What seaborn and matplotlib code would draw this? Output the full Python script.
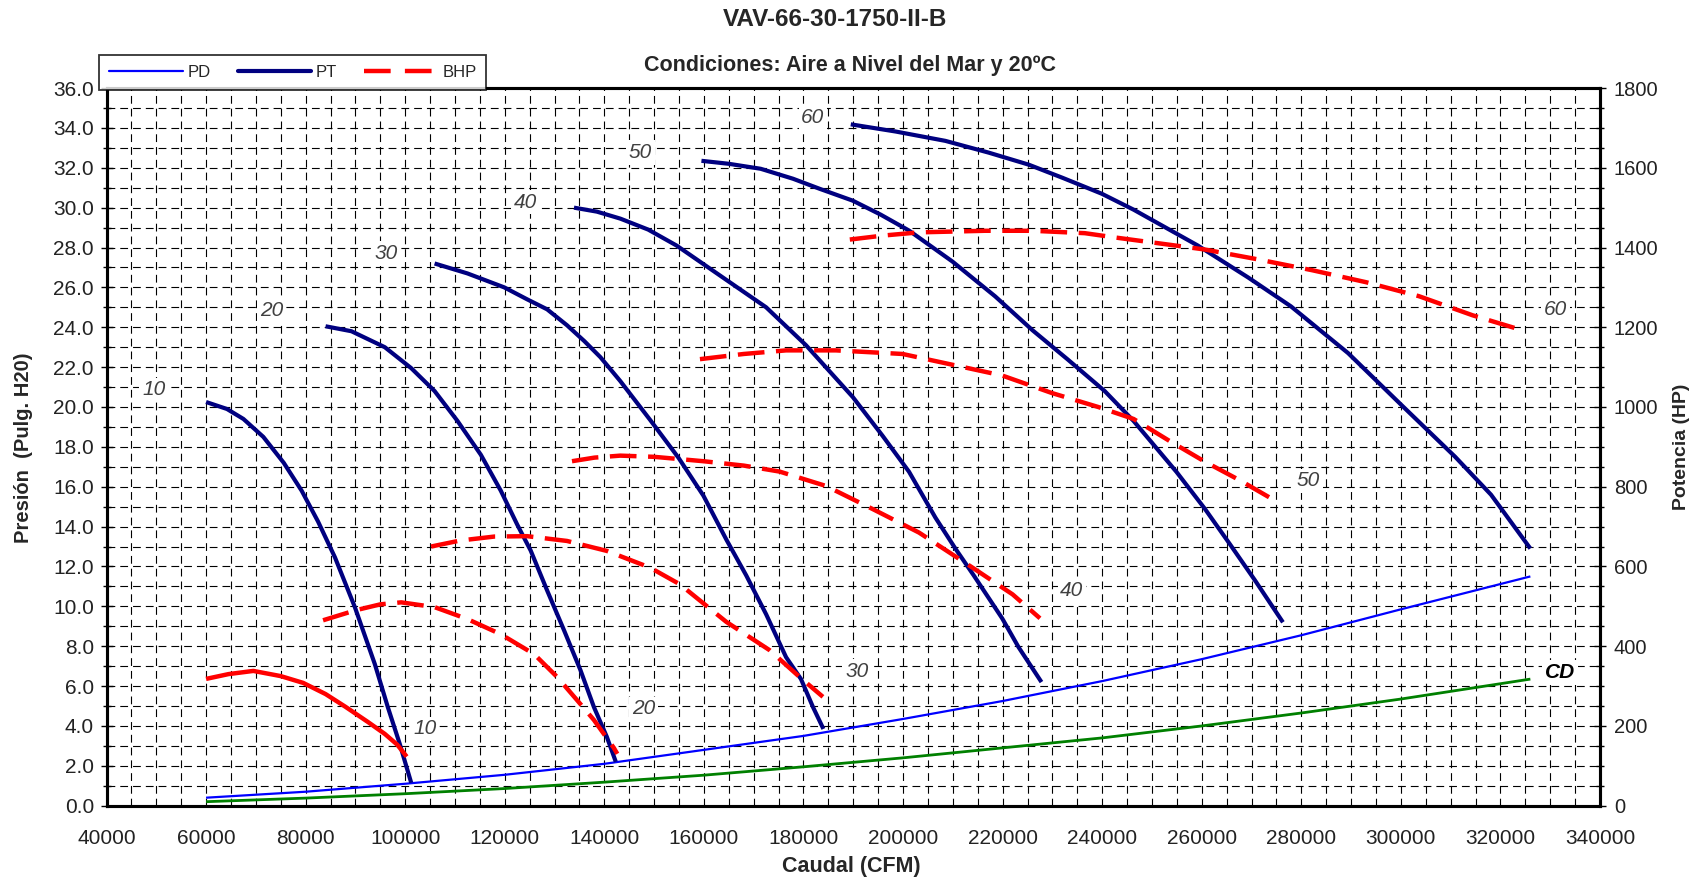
import matplotlib
matplotlib.use("Agg")
import matplotlib.pyplot as plt
import seaborn as sns
from matplotlib.lines import Line2D
from matplotlib.ticker import MultipleLocator, FormatStrFormatter

# ---------------- data ----------------
# PT curves (pressure, in. H2O) vs CFM
pt10_x = [60000, 64200, 67500, 71500, 75600, 79200, 82500, 85900, 89900, 93900, 96500, 98900, 101200]
pt10_y = [20.25, 19.9, 19.4, 18.5, 17.2, 15.8, 14.25, 12.45, 9.95, 7.1, 4.95, 3.1, 1.15]
pt20_x = [84000, 89200, 95900, 101200, 105900, 110500, 115200, 119200, 122500, 125200, 128500, 131900, 135200, 137900, 140500, 142300]
pt20_y = [24.05, 23.8, 23.0, 21.95, 20.8, 19.3, 17.6, 15.8, 14.1, 12.8, 10.8, 8.8, 6.8, 4.95, 3.45, 2.2]
pt30_x = [105900, 112500, 119900, 124500, 128500, 132500, 136000, 139200, 143200, 149200, 154900, 159900, 164500, 168500, 172500, 176500, 179500, 181900, 184000]
pt30_y = [27.2, 26.7, 26.0, 25.4, 24.9, 24.1, 23.3, 22.5, 21.3, 19.35, 17.45, 15.55, 13.35, 11.55, 9.6, 7.45, 6.35, 4.95, 3.85]
pt40_x = [133900, 138500, 143200, 148800, 154500, 163200, 172500, 180500, 189900, 195900, 201200, 206500, 210500, 214200, 219900, 223200, 227800]
pt40_y = [30.0, 29.8, 29.45, 28.9, 28.1, 26.6, 25.0, 23.1, 20.5, 18.55, 16.75, 14.45, 12.9, 11.55, 9.4, 7.95, 6.2]
pt50_x = [159500, 165000, 171400, 177900, 183200, 189900, 195500, 201200, 209900, 218500, 226000, 233000, 240500, 246300, 254900, 260600, 265700, 270700, 276300]
pt50_y = [32.35, 32.2, 31.95, 31.45, 30.95, 30.35, 29.65, 28.85, 27.3, 25.55, 23.85, 22.4, 20.8, 19.3, 16.75, 14.9, 13.1, 11.3, 9.2]
pt60_x = [189500, 198500, 208500, 217200, 225200, 232000, 239900, 246300, 259200, 269300, 277900, 289400, 300100, 310900, 318100, 326000]
pt60_y = [34.18, 33.82, 33.35, 32.76, 32.16, 31.5, 30.7, 29.9, 28.1, 26.5, 25.05, 22.7, 20.1, 17.5, 15.6, 12.9]

# BHP curves (HP) vs CFM
bhp10_x = [60000, 64500, 69500, 75000, 79500, 84000, 88000, 92500, 95900, 98400, 100300]
bhp10_y = [318, 330, 338, 325, 308, 280, 248, 210, 180, 153, 123]
bhp20_x = [83500, 90000, 95000, 99200, 105900, 112500, 119200, 125900, 130500, 134500, 137900, 141900, 142600]
bhp20_y = [465, 490, 505, 510, 498, 468, 430, 380, 323, 265, 215, 145, 130]
bhp30_x = [105200, 111000, 117900, 124500, 132500, 140500, 149200, 155200, 164500, 173200, 179200, 183900]
bhp30_y = [650, 665, 675, 676, 664, 639, 597, 555, 461, 390, 323, 273]
bhp40_x = [133500, 138000, 143200, 150000, 159900, 168000, 175200, 184500, 193900, 203200, 214200, 222000, 227500]
bhp40_y = [864, 873, 878, 875, 864, 853, 838, 802, 744, 685, 595, 530, 470]
bhp50_x = [159200, 168000, 176500, 186500, 199900, 209900, 219900, 229900, 239200, 246300, 253500, 260600, 267800, 275000]
bhp50_y = [1120, 1133, 1142, 1142, 1133, 1106, 1079, 1035, 1000, 970, 915, 863, 815, 763]
bhp60_x = [189300, 196000, 203200, 216500, 226000, 236500, 242700, 253500, 260600, 271400, 282200, 293000, 303600, 314400, 323700]
bhp60_y = [1420, 1430, 1438, 1442, 1442, 1436, 1425, 1407, 1395, 1370, 1343, 1313, 1278, 1230, 1195]

# PD and CD curves (pressure)
sys_x = [60000, 80000, 100000, 120000, 140000, 160000, 180000, 200000, 220000, 240000, 260000, 280000, 300000, 326000]
pd_y = [0.4, 0.7, 1.1, 1.55, 2.1, 2.8, 3.5, 4.35, 5.25, 6.25, 7.35, 8.55, 9.85, 11.5]
cd_y = [0.2, 0.38, 0.6, 0.86, 1.18, 1.53, 1.95, 2.4, 2.9, 3.4, 4.0, 4.65, 5.35, 6.35]

# curve labels
pt_labels = ["10", "20", "30", "40", "50", "60"]
pt_label_x = [49500, 73200, 96200, 124200, 147200, 181900]
pt_label_y = [20.86, 24.86, 27.7, 30.27, 32.76, 34.53]
bhp_labels = ["10", "20", "30", "40", "50", "60"]
bhp_label_x = [103900, 147900, 190700, 233900, 281400, 331000]
bhp_label_y = [3.86, 4.86, 6.75, 10.8, 16.3, 24.9]

title = "VAV-66-30-1750-II-B"
subtitle = "Condiciones: Aire a Nivel del Mar y 20ºC"

# ---------------- style ----------------
sns.set_style("white")
plt.rcParams['font.family'] = ['Liberation Sans', 'DejaVu Sans']

NAVY = "#000080"
BLUE = "#0000FF"
RED = "#FF0000"
GREEN = "#008000"

fig = plt.figure(figsize=(17.04, 8.84), dpi=100)
ax = fig.add_axes([0.0625, 0.0886, 0.8765, 0.8118])
ax2 = ax.twinx()


def draw(axis, x, y, color, lw, dashes=None, z=3):
    sns.lineplot(x=x, y=y, ax=axis, color=color, linewidth=lw,
                 estimator=None, sort=False, legend=False)
    ln = axis.lines[-1]
    ln.set_zorder(z)
    ln.set_solid_capstyle('butt')
    ln.set_solid_joinstyle('round')
    if dashes is not None:
        ln.set_dashes(dashes)
        ln.set_dash_capstyle('butt')
    return ln


# system curves
draw(ax, sys_x, cd_y, GREEN, 2.0)
draw(ax, sys_x, pd_y, BLUE, 1.6)

# PT curves
for xs, ys in [(pt10_x, pt10_y), (pt20_x, pt20_y), (pt30_x, pt30_y),
               (pt40_x, pt40_y), (pt50_x, pt50_y), (pt60_x, pt60_y)]:
    draw(ax, xs, ys, NAVY, 3.0)

# BHP curves
draw(ax2, bhp10_x, bhp10_y, RED, 3.2)
for xs, ys in [(bhp20_x, bhp20_y), (bhp30_x, bhp30_y), (bhp40_x, bhp40_y),
               (bhp50_x, bhp50_y), (bhp60_x, bhp60_y)]:
    draw(ax2, xs, ys, RED, 3.2, dashes=(6.0, 2.6))

# labels
lab_kw = dict(fontstyle='italic', color='#404040', fontsize=15, ha='center', va='center',
              zorder=6, bbox=dict(fc='white', ec='none', pad=2.0))
for s, x, y in zip(pt_labels, pt_label_x, pt_label_y):
    ax.text(x, y, s, **lab_kw)
for s, x, y in zip(bhp_labels, bhp_label_x, bhp_label_y):
    ax.text(x, y, s, **lab_kw)
ax.text(331900, 6.69, "CD", fontstyle='italic', fontweight='bold', color='black',
        fontsize=15, ha='center', va='center', zorder=6,
        bbox=dict(fc='white', ec='none', pad=2.0))

# axes
ax.set_xlim(40000, 340000)
ax.set_ylim(0, 36)
ax2.set_ylim(0, 1800)
ax.set_xlabel("")
ax.set_ylabel("")
ax2.set_ylabel("")

ax.xaxis.set_major_locator(MultipleLocator(20000))
ax.xaxis.set_minor_locator(MultipleLocator(5000))
ax.yaxis.set_major_locator(MultipleLocator(2))
ax.yaxis.set_minor_locator(MultipleLocator(1))
ax.yaxis.set_major_formatter(FormatStrFormatter('%.1f'))
ax.xaxis.set_major_formatter(FormatStrFormatter('%d'))
ax2.yaxis.set_major_locator(MultipleLocator(200))
ax2.yaxis.set_minor_locator(MultipleLocator(50))
ax2.yaxis.set_major_formatter(FormatStrFormatter('%d'))

ax.grid(True, which='both', color='black', linewidth=0.8, linestyle=(0, (7, 4.5)))
ax2.grid(False)
ax.set_axisbelow(True)

for a in (ax, ax2):
    for sp in a.spines.values():
        sp.set_linewidth(2.2)
        sp.set_color('black')

ax.tick_params(axis='both', which='major', labelsize=15, color='black', labelcolor='#222222',
               direction='inout', length=8, width=1.0)
ax.tick_params(axis='both', which='minor', direction='inout', length=6, width=1.0, color='black')
ax.tick_params(axis='x', which='major', pad=13)
ax.tick_params(axis='y', which='major', pad=5)
ax2.tick_params(axis='y', which='major', labelsize=14.5, labelcolor='#222222', direction='inout',
                length=8, width=1.0, color='black', pad=6)
ax2.tick_params(axis='y', which='minor', direction='inout', length=6, width=1.0, color='black')

# titles and axis labels
fig.text(0.490, 0.978, title, ha='center', va='center', fontsize=17.5, fontweight='bold')
fig.text(0.4990, 0.926, subtitle, ha='center', va='center', fontsize=15.5, fontweight='bold')
fig.text(0.4994, 0.020, "Caudal (CFM)", ha='center', va='center', fontsize=15.5, fontweight='bold')
fig.text(0.0140, 0.494, "Presión  (Pulg. H20)", ha='center', va='center', rotation=90,
         fontsize=14.5, fontweight='bold')
fig.text(0.9866, 0.495, "Potencia (HP)", ha='center', va='center', rotation=90,
         fontsize=14, fontweight='bold')

# legend
handles = [Line2D([], [], color=BLUE, lw=1.6),
           Line2D([], [], color=NAVY, lw=3.0),
           Line2D([], [], color=RED, lw=3.2, dashes=(6.0, 3.2))]
leg = fig.legend(handles, ["PD", "PT", "BHP"], loc='upper left', bbox_to_anchor=(0.0535, 0.9475),
                 ncol=3, frameon=True, fancybox=False, edgecolor='black', fontsize=12,
                 handlelength=4.4, columnspacing=1.6, handletextpad=0.3, borderpad=0.6)
leg.get_frame().set_linewidth(1.3)

fig.savefig("out.png", dpi=100)
